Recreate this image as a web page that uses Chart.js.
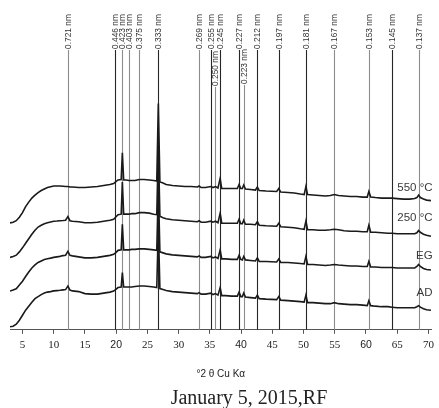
<!DOCTYPE html>
<html>
<head>
<meta charset="utf-8">
<script src="https://cdn.jsdelivr.net/npm/chart.js@4"></script>
<style>
  html, body { margin: 0; padding: 0; background: #fff; }
  canvas { display: block; }
</style>
</head>
<body>
<canvas id="xrdChart" width="439" height="408"></canvas>
<script>
// 2-theta positions (deg, Cu K-alpha) and intensities of the four patterns,
// already stacked AD < EG < 250 < 550
const twoTheta = [
    3.0, 3.5, 4.0, 4.5, 5.0, 5.5, 6.0, 6.5, 7.0, 7.5,
    8.0, 8.5, 9.0, 9.5, 10, 10.5, 11, 11.5, 11.9, 12.27,
    12.6, 13, 14, 15, 16, 17, 18, 19, 19.6, 19.9,
    20.3, 20.8, 20.99, 21.2, 21.6, 22.04, 22.5, 23, 23.7, 24.5,
    25.3, 26, 26.5, 26.75, 27.0, 27.5, 28, 29, 30, 31,
    32, 33, 33.28, 33.6, 34.3, 35.17, 35.5, 35.89, 36.3, 36.65,
    36.9, 37.5, 38.5, 39.4, 39.68, 39.95, 40.2, 40.42, 40.7, 41.5,
    42.3, 42.61, 42.9, 44, 45.7, 46.04, 46.35, 47.5, 48.5, 49.5,
    50.1, 50.38, 50.65, 51.5, 52.5, 53.5, 54.3, 54.94, 55.6, 56.5,
    57.5, 58.5, 59.5, 60.2, 60.46, 60.75, 61.5, 62.5, 63.5, 64.18,
    65, 66, 67, 67.8, 68.15, 68.42, 68.7, 69.2, 69.7, 70.4
];

const heated550 = [
    106.3, 107, 108.5, 112, 116.5, 122.5, 127, 131, 134, 136.5,
    138.5, 140, 141.5, 142.3, 143, 143, 143, 142.7, 142.5, 142.5,
    142, 142, 141.5, 141.5, 142, 142.5, 143.5, 144.5, 145.5, 147,
    149, 149.5, 176, 149, 149, 148.5, 148.5, 148.5, 149.5, 149.5,
    149, 148.5, 148, 225, 147, 146, 144.5, 143.5, 143, 142.5,
    142.5, 142, 143, 141.5, 141.5, 142.5, 141.5, 142.5, 141, 150.5,
    140.5, 140.5, 140.5, 140.5, 144.5, 140.5, 140.5, 144, 140, 139.5,
    139, 142, 138.5, 138, 137.5, 140.5, 137, 136.5, 136, 135,
    134.5, 142.5, 134.5, 134, 133.5, 133, 133.5, 134.5, 133.5, 133,
    132.5, 132.5, 132, 132, 137.5, 132, 131.5, 131, 131, 131,
    130.5, 130, 130, 130.5, 131.5, 134, 131.5, 130, 129, 128.5
];

const heated250 = [
    72, 73, 74.2, 77.5, 81.5, 86, 90.5, 95, 99, 102.2,
    104, 105.5, 106.5, 107.3, 108, 108.2, 108.5, 108.7, 109, 112.5,
    108.5, 108, 107.5, 106.5, 106.5, 107, 108, 109, 110, 112,
    114.5, 115, 147, 115, 115, 115, 115.5, 115.5, 116.5, 116.5,
    116, 115, 114.5, 183, 113, 111.5, 110.5, 109.5, 109, 108.5,
    108, 107.5, 108.5, 107, 107, 108, 107, 108, 106.5, 116,
    106, 106, 106, 106, 110, 105.5, 105.5, 109, 105, 105,
    104.5, 107.5, 104, 103.5, 103, 106, 102.5, 102, 101.5, 100.5,
    100, 108, 99.5, 99.5, 99, 99, 99.5, 100, 99.5, 98.5,
    98, 98, 97.5, 97.5, 104, 97, 97, 96.5, 96, 96,
    95.5, 95.5, 95.5, 95.5, 96.5, 98.7, 97, 95, 94, 93
];

const glycolated = [
    38.5, 39.5, 40.8, 44.5, 48.3, 53, 57.5, 61.5, 64.5, 67,
    68.5, 70, 70.7, 71.3, 72, 72.5, 73, 73.8, 74.2, 78,
    74, 73.5, 72.5, 71.5, 71.5, 72, 73, 74, 75, 76.5,
    79, 79.5, 105, 79.5, 79.5, 79.5, 80, 80, 80.5, 80.5,
    80, 79.5, 79, 143, 77.5, 76.5, 75.5, 74.5, 74, 73.5,
    73, 72.5, 73.5, 72, 72, 73, 71.5, 72.5, 71, 79.5,
    70.5, 70.5, 70, 70, 74, 70, 69.5, 73, 69.5, 69,
    68.5, 71.5, 68, 68, 67.5, 70.5, 67, 67, 66.5, 66,
    65.5, 73, 65, 65, 64.5, 64, 64.5, 65, 64.5, 64,
    63.5, 63.5, 63, 63, 68, 62.5, 62.5, 62, 62, 62,
    61.5, 61.5, 61.5, 61.5, 63, 65, 63, 61, 60, 59.5
];

const airDried = [
    3, 3.5, 5.5, 9.5, 14.5, 19.5, 23.5, 27.5, 31, 33,
    35, 36.5, 37.5, 38, 38.7, 39, 39.3, 39.7, 40, 43.5,
    39.5, 38.7, 38, 36, 35.5, 35.5, 36.5, 37.5, 38.5, 40,
    42, 42.5, 57, 42.5, 42.5, 42.5, 42.5, 43, 43.5, 43.5,
    43, 42.5, 42, 103, 41, 40, 39, 38, 37.5, 37,
    36.5, 36, 37, 35.5, 35.5, 36.5, 35, 36, 34.5, 42,
    34, 34, 33.5, 33.5, 37.5, 33, 33, 36.5, 32.5, 32,
    31.5, 34.5, 31, 30.5, 30, 33, 29.5, 29, 28.5, 28,
    27.5, 34.5, 27, 27, 26.5, 26, 26, 27, 26, 25.5,
    25, 25, 24.5, 24, 29, 24, 23.5, 23, 23, 22.5,
    22, 22, 22, 22, 23, 24, 22.5, 21, 20, 19.5
];

const seriesNames = ['550 °C', '250 °C', 'EG', 'AD'];

// reflections: d-spacing labels and their 2-theta positions
const dSpacing = [
    '0.721', '0.446', '0.423', '0.403', '0.375', '0.333', '0.269', '0.255', '0.250', '0.245',
    '0.227', '0.223', '0.212', '0.197', '0.181', '0.167', '0.153', '0.145', '0.137'
];
const peakTwoTheta = [
    12.27, 19.89, 20.99, 22.04, 23.71, 26.75, 33.28, 35.17, 35.89, 36.65,
    39.68, 40.42, 42.61, 46.04, 50.38, 54.94, 60.46, 64.18, 68.42
];

const xTicks = [5, 10, 15, 20, 25, 30, 35, 40, 45, 50, 55, 60, 65, 70];

// a few tick numbers are set in a sans face
const sansTicks = [20, 40, 60];
const darkRefs = ['0.446', '0.333', '0.255', '0.245', '0.227', '0.212', '0.197', '0.181', '0.145'];
const droppedRefs = { '0.250': 86, '0.223': 84 };

const refLines = {
    id: 'refLines',
    beforeDatasetsDraw(chart) {
        const { ctx, chartArea, scales } = chart;
        ctx.save();
        dSpacing.forEach((d, i) => {
            const px = Math.round(scales.x.getPixelForValue(peakTwoTheta[i])) + 0.5;
            const top = droppedRefs[d] || 49;
            ctx.strokeStyle = darkRefs.includes(d) ? '#262626' : '#8c8c8c';
            ctx.lineWidth = 1.1;
            ctx.beginPath();
            ctx.moveTo(px, top + 1);
            ctx.lineTo(px, chartArea.bottom);
            ctx.stroke();

            ctx.save();
            ctx.translate(px, top);
            ctx.rotate(-Math.PI / 2);
            ctx.font = '8.4px "Liberation Sans"';
            ctx.fillStyle = '#333';
            ctx.textAlign = 'left';
            ctx.textBaseline = 'middle';
            ctx.fillText(d + ' nm', 0, 0);
            ctx.restore();
        });
        ctx.restore();
    },
    afterDatasetsDraw(chart) {
        const { ctx, chartArea } = chart;
        const labelY = [188, 218, 256, 293];
        ctx.save();
        ctx.font = '11.5px "Liberation Sans"';
        ctx.fillStyle = '#3a3a3a';
        ctx.textAlign = 'right';
        ctx.textBaseline = 'middle';
        seriesNames.forEach((name, i) => {
            ctx.fillText(name, chartArea.right + 1, labelY[i]);
        });
        ctx.restore();
    },
    afterDraw(chart) {
        const ctx = chart.ctx;
        ctx.save();
        ctx.font = '20px "Liberation Serif"';
        ctx.fillStyle = '#222';
        ctx.textAlign = 'center';
        ctx.textBaseline = 'alphabetic';
        ctx.fillText('January 5, 2015,RF', 249, 404);
        ctx.restore();
    }
};

const traces = [heated550, heated250, glycolated, airDried];

new Chart(document.getElementById('xrdChart'), {
    type: 'line',
    data: {
        datasets: traces.map((vals, i) => ({
            label: seriesNames[i],
            data: twoTheta.map((t, j) => ({ x: t, y: vals[j] })),
            borderColor: '#1a1a1a',
            borderWidth: 1.6,
            pointRadius: 0,
            tension: 0,
            fill: false
        }))
    },
    options: {
        responsive: false,
        animation: false,
        devicePixelRatio: 1,
        layout: { padding: { top: 0, left: 10, right: 7, bottom: 28 } },
        plugins: {
            legend: { display: false },
            tooltip: { enabled: false }
        },
        scales: {
            x: {
                type: 'linear',
                min: 3,
                max: 70.5,
                afterBuildTicks: (scale) => {
                    scale.ticks = xTicks.map(v => ({ value: v }));
                },
                ticks: {
                    autoSkip: false,
                    maxRotation: 0,
                    padding: 5,
                    color: '#222',
                    font: (ctx) => sansTicks.includes(ctx.tick && ctx.tick.value)
                        ? { family: 'Liberation Sans', size: 10.5 }
                        : { family: 'Liberation Serif', size: 11 }
                },
                grid: {
                    drawOnChartArea: false,
                    drawTicks: true,
                    tickLength: 4,
                    color: '#555',
                    lineWidth: 1
                },
                border: { display: true, color: '#555', width: 1 },
                title: {
                    display: true,
                    text: '°2 θ Cu Kα',
                    color: '#222',
                    font: { family: 'Liberation Sans', size: 10 },
                    padding: { top: 11, bottom: 0 }
                }
            },
            y: {
                display: false,
                min: 0,
                max: 328
            }
        }
    },
    plugins: [refLines]
});
</script>
</body>
</html>
